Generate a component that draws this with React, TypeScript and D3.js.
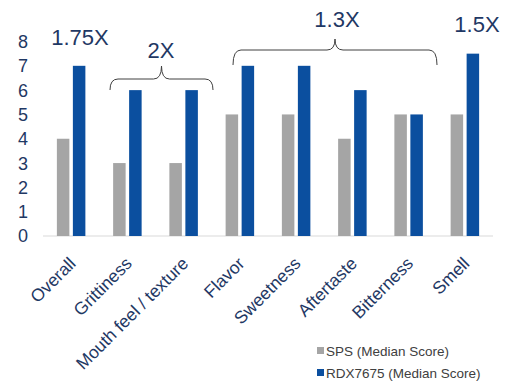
import React from "react";
import * as d3 from "d3";

const categories = ["Overall", "Grittiness", "Mouth feel / texture", "Flavor", "Sweetness", "Aftertaste", "Bitterness", "Smell"];
const spsValues = [4, 3, 3, 5, 5, 4, 5, 5];
const rdxValues = [7, 6, 6, 7, 7, 6, 5, 7.5];
const seriesNames = ["SPS (Median Score)", "RDX7675 (Median Score)"];
const yTicks = [0, 1, 2, 3, 4, 5, 6, 7, 8];

const GRAY = "#a5a5a5";
const BLUE = "#0b4f9f";
const NAVY = "#1f3864";
const FONT = "'Liberation Sans', Arial, sans-serif";

export default function App() {
  const W = 511, H = 386;
  const x = d3.scaleBand<string>().domain(categories).range([43, 493]);
  const y = d3.scaleLinear().domain([0, 8]).range([236, 41.5]);
  const barW = 12.5, gap = 3.5;

  const bracePath = (x0: number, x1: number, yTop: number, drop: number, tip: number, r: number) => {
    const xm = (x0 + x1) / 2;
    return `M${x0},${yTop + drop} Q${x0},${yTop} ${x0 + r},${yTop} L${xm - r},${yTop} Q${xm},${yTop} ${xm},${yTop - tip} Q${xm},${yTop} ${xm + r},${yTop} L${x1 - r},${yTop} Q${x1},${yTop} ${x1},${yTop + drop}`;
  };

  return (
    <svg width={W} height={H} style={{ position: "absolute", left: 0, top: 0, background: "#fff" }} fontFamily={FONT}>
      {yTicks.map((t) => (
        <text key={t} x={23} y={y(t)} dy="0.36em" textAnchor="middle" fontSize={18} fill={NAVY}>{t}</text>
      ))}
      <line x1={43} x2={493} y1={y(0)} y2={y(0)} stroke="#d9d9d9" strokeWidth={1} />
      {categories.map((c, i) => {
        const cx = x(c)! + x.bandwidth() / 2;
        return (
          <g key={c}>
            <rect x={cx - gap / 2 - barW} y={y(spsValues[i])} width={barW} height={y(0) - y(spsValues[i])} fill={GRAY} />
            <rect x={cx + gap / 2} y={y(rdxValues[i])} width={barW} height={y(0) - y(rdxValues[i])} fill={BLUE} />
            <text transform={`translate(${cx - 3},${y(0) + 20}) rotate(-45)`} textAnchor="end" dy="0.7em" fontSize={17.5} fill={NAVY}>{c}</text>
          </g>
        );
      })}
      <text x={80} y={45} textAnchor="middle" fontSize={22} fill={NAVY}>1.75X</text>
      <text x={161} y={58} textAnchor="middle" fontSize={22} fill={NAVY}>2X</text>
      <text x={337} y={27} textAnchor="middle" fontSize={22} fill={NAVY}>1.3X</text>
      <text x={477} y={32} textAnchor="middle" fontSize={22} fill={NAVY}>1.5X</text>
      <path d={bracePath(110, 213, 79, 11, 13, 8)} fill="none" stroke="#404040" strokeWidth={1} />
      <path d={bracePath(233, 437, 50, 15, 11, 8)} fill="none" stroke="#404040" strokeWidth={1} />
      {seriesNames.map((s, i) => (
        <g key={s} transform={`translate(317,${351 + i * 22})`}>
          <rect x={0} y={-4} width={7} height={7} fill={i === 0 ? GRAY : BLUE} />
          <text x={9} y={0} dy="0.35em" fontSize={13.5} fill="#404040">{s}</text>
        </g>
      ))}
    </svg>
  );
}
